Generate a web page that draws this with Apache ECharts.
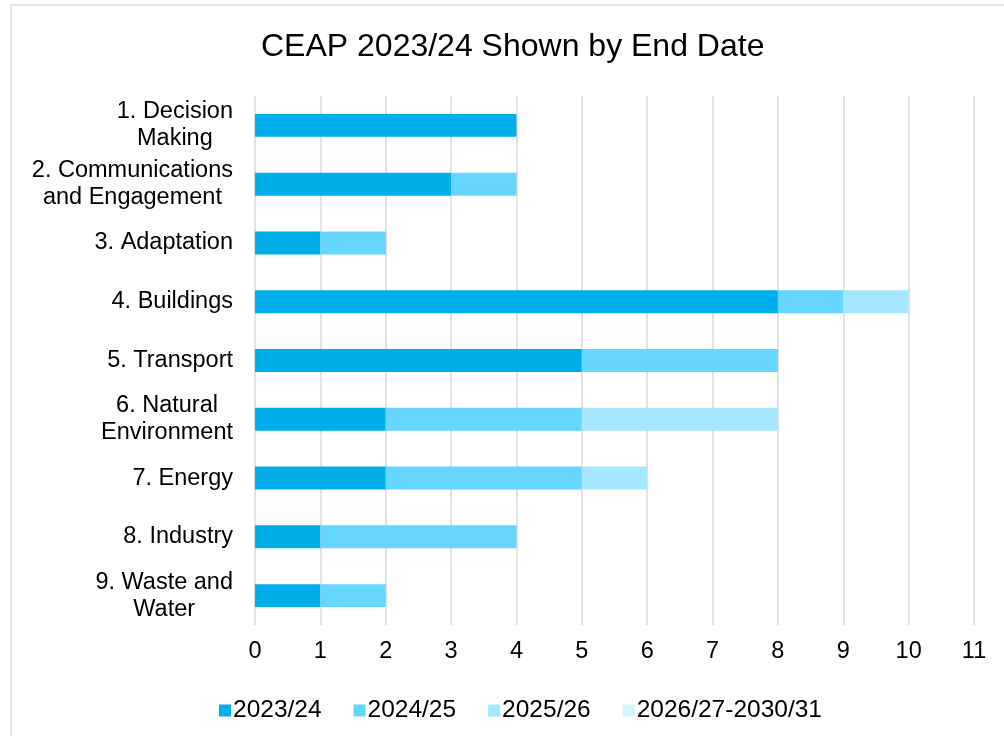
<!DOCTYPE html>
<html>
<head>
<meta charset="utf-8">
<script src="https://cdn.jsdelivr.net/npm/echarts@6/dist/echarts.min.js"></script>
<style>
  html, body { margin: 0; padding: 0; background: #fff; }
  #chart { width: 1004px; height: 736px; }
</style>
</head>
<body>
<div id="chart"></div>
<script>
// categories, top to bottom
const categories = [
  '1. Decision\nMaking',
  '2. Communications\nand Engagement',
  '3. Adaptation',
  '4. Buildings',
  '5. Transport',
  '6. Natural\nEnvironment',
  '7. Energy',
  '8. Industry',
  '9. Waste and\nWater'
]
const seriesNames = ['2023/24', '2024/25', '2025/26', '2026/27-2030/31']
const fy2324 = [4, 3, 1, 8, 5, 2, 2, 1, 1]
const fy2425 = [0, 1, 1, 1, 3, 3, 3, 3, 1]
const fy2526 = [0, 0, 0, 1, 0, 3, 1, 0, 0]
const fy2631 = [0, 0, 0, 0, 0, 0, 0, 0, 0]
const colors = ['#00AEEA', '#66D6FF', '#A6E6FF', '#D4F3FF']

const font = 'Liberation Sans, Arial, sans-serif'
const chart = echarts.init(document.getElementById('chart'))

chart.setOption({
  animation: false,
  color: colors,
  textStyle: { fontFamily: font },
  title: {
    text: 'CEAP 2023/24 Shown by End Date',
    left: 256,
    top: 26,
    textStyle: { fontSize: 32, fontWeight: 'normal', color: '#000', fontFamily: font }
  },
  graphic: [{
    type: 'rect',
    shape: { x: 11, y: 5, width: 1000, height: 740 },
    style: { fill: 'none', stroke: '#D9D9D9', lineWidth: 1.5 },
    silent: true
  }],
  legend: {
    data: seriesNames,
    left: 214,
    top: 693,
    itemWidth: 12,
    itemHeight: 12,
    itemGap: 32,
    icon: 'rect',
    textStyle: { fontSize: 24.5, color: '#000', padding: [0, 0, 0, -3] }
  },
  grid: { left: 255, right: 30, top: 96, bottom: 111 },
  xAxis: {
    type: 'value',
    min: 0,
    max: 11,
    interval: 1,
    axisLine: { show: false },
    axisTick: { show: false },
    axisLabel: { fontSize: 23.5, color: '#000', margin: 15 },
    splitLine: { lineStyle: { color: '#D9D9D9', width: 1.5 } }
  },
  yAxis: {
    type: 'category',
    inverse: true,
    data: categories,
    axisLine: { show: false },
    axisTick: { show: false },
    axisLabel: {
      margin: 22,
      align: 'right',
      formatter: v => v.split('\n').map(s => '{c|' + s + '}').join('\n'),
      rich: {
        c: { fontSize: 23.5, color: '#000', align: 'center', lineHeight: 27, fontFamily: font }
      }
    }
  },
  series: [fy2324, fy2425, fy2526, fy2631].map((d, i) => ({
    name: seriesNames[i],
    type: 'bar',
    stack: 'total',
    barWidth: '39%',
    data: d
  }))
})
</script>
</body>
</html>
